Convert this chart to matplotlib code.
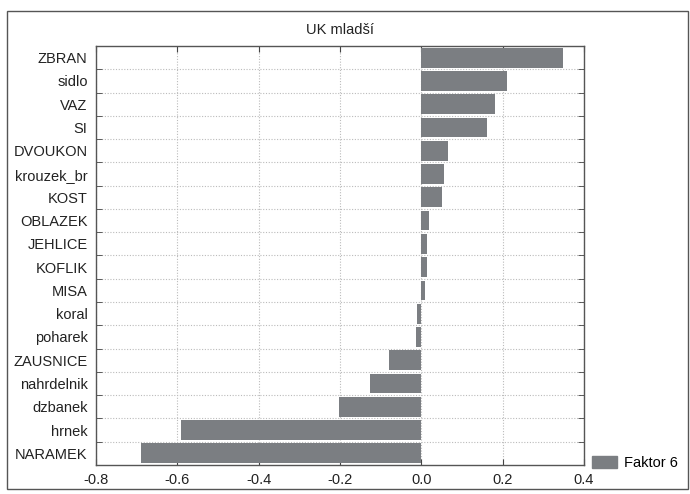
import matplotlib
matplotlib.use("Agg")
import matplotlib.pyplot as plt
from matplotlib.patches import Rectangle, Patch
import numpy as np

plt.rcParams['font.family'] = ['Liberation Sans', 'DejaVu Sans']

categories = ["ZBRAN", "sidlo", "VAZ", "SI", "DVOUKON", "krouzek_br", "KOST",
              "OBLAZEK", "JEHLICE", "KOFLIK", "MISA", "koral", "poharek",
              "ZAUSNICE", "nahrdelnik", "dzbanek", "hrnek", "NARAMEK"]
values = [0.348, 0.210, 0.181, 0.161, 0.065, 0.056, 0.052,
          0.020, 0.014, 0.015, 0.008, -0.010, -0.012,
          -0.080, -0.126, -0.203, -0.592, -0.690]
xticks = [-0.8, -0.6, -0.4, -0.2, 0.0, 0.2, 0.4]
title = "UK mladší"
series_name = "Faktor 6"

fig = plt.figure(figsize=(6.9, 4.94), dpi=100)
fig.patch.set_facecolor("white")
fig.patches.append(Rectangle((7/690, 1 - 489/494), 681/690, 478/494,
                             transform=fig.transFigure, fill=False,
                             edgecolor="#555555", linewidth=1.0))

ax = fig.add_axes([96/690, 1 - 465/494, 488/690, 419/494])
y = np.arange(len(categories))
color = "#7b7e82"
ax.barh(y, values, height=0.85, color=color, zorder=3)
ax.set_ylim(len(categories) - 0.5, -0.5)
ax.set_xlim(-0.8, 0.4)
ax.set_xticks(xticks)
ax.set_xticklabels([f"{v:.1f}" for v in xticks], fontsize=10.5, color="#222222")
ax.set_yticks(y)
ax.set_yticklabels(categories, fontsize=10.5, color="#222222")
ax.tick_params(axis='y', which='major', length=0, pad=6)
ax.set_yticks(np.arange(len(categories) - 1) + 0.5, minor=True)
ax.tick_params(axis='y', which='minor', direction='in', length=4, left=True, right=True, color="#444444")
ax.tick_params(axis='x', which='major', direction='in', length=4, top=True, bottom=True, pad=6, color="#444444")
ax.grid(True, axis='y', which='minor', linestyle=(0, (1, 1.5)), color="#bbbbbb", linewidth=0.8, zorder=0)
ax.grid(True, axis='x', which='major', linestyle=(0, (1, 1.5)), color="#bbbbbb", linewidth=0.8, zorder=0)
for s in ax.spines.values():
    s.set_color("#555555")
    s.set_linewidth(1.0)

fig.text(340/690, 1 - 30/494, title, ha='center', va='center', fontsize=10.5, color="#222222")

handle = Patch(facecolor=color, edgecolor=color)
fig.legend([handle], [series_name], loc='center left', bbox_to_anchor=(592/690, 1 - 463/494),
           frameon=False, fontsize=10.5, handlelength=1.7, handleheight=0.9, handletextpad=0.5,
           borderaxespad=0, borderpad=0)

fig.savefig("out.png", dpi=100)
